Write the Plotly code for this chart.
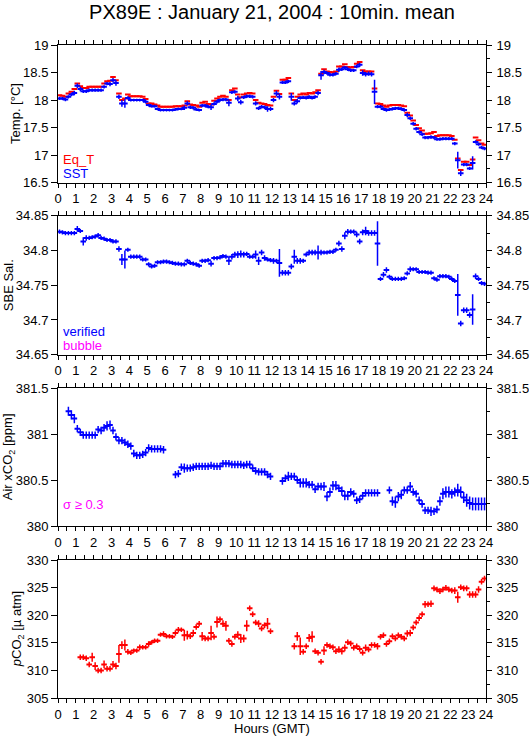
import plotly.graph_objects as go

# ---------------- data (10-minute means, 6 bins per hour) ----------------
hours = [(i + 0.5) / 6 for i in range(144)]

eq_t = [
    18.09, 18.08, 18.06, 18.12, 18.15, 18.20,
    18.30, 18.25, 18.22, 18.22, 18.24, 18.24,
    18.24, 18.24, 18.24, 18.30, 18.34, 18.35,
    18.42, 18.36, 18.12, 18.00, 18.03, 18.10,
    18.07, 18.07, 18.07, 18.07, 18.06, 18.02,
    17.94, 17.94, 17.92, 17.90, 17.88, 17.88,
    17.88, 17.88, 17.88, 17.89, 17.89, 17.89,
    17.90, 17.98, 17.92, 17.91, 17.90, 17.88,
    17.95, 17.97, 17.93, 17.92, 17.99, 18.03,
    18.06, 18.08, 18.06, 18.00, 18.18, 18.21,
    18.10, 18.05, 18.10, 18.12, 18.13, 18.12,
    18.00, 17.95, 17.94, 17.93, 17.91, 17.90,
    18.06, 18.17, 18.11, 18.37, 18.37, 18.40,
    18.12, 18.00, 18.06, 18.10, 18.12, 18.10,
    18.13, 18.12, 18.14, 18.18, 18.48, 18.56,
    18.52, 18.51, 18.50, 18.52, 18.61, 18.61,
    18.65, 18.60, 18.59, 18.60, 18.66, 18.69,
    18.54, 18.52, 18.52, 18.52, 18.21, 17.94,
    17.93, 17.90, 17.88, 17.90, 17.91, 17.91,
    17.91, 17.90, 17.89, 17.77, 17.72, 17.63,
    17.55, 17.49, 17.45, 17.39, 17.39, 17.40,
    17.42, 17.35, 17.36, 17.36, 17.36, 17.36,
    17.35, 17.28, 16.94, 16.73, 16.88, 16.88,
    16.82, 16.92, 17.32, 17.27, 17.21, 17.19,
]

sst = [
    18.03, 18.03, 18.01, 18.06, 18.10, 18.13,
    18.26, 18.20, 18.16, 18.16, 18.18, 18.18,
    18.18, 18.18, 18.18, 18.24, 18.30, 18.29,
    18.36, 18.31, 18.06, 17.94, 17.94, 18.04,
    18.00, 18.00, 18.00, 18.00, 18.00, 17.97,
    17.91, 17.89, 17.89, 17.84, 17.82, 17.82,
    17.82, 17.82, 17.82, 17.83, 17.84, 17.84,
    17.86, 17.94, 17.87, 17.86, 17.83, 17.82,
    17.90, 17.90, 17.88, 17.87, 17.93, 17.97,
    18.00, 18.01, 18.01, 17.95, 18.14, 18.15,
    18.03, 17.96, 18.05, 18.07, 18.07, 18.06,
    17.94, 17.85, 17.88, 17.87, 17.84, 17.84,
    18.00, 18.12, 18.06, 18.32, 18.32, 18.34,
    18.06, 17.94, 17.98, 18.04, 18.05, 18.04,
    18.06, 18.04, 18.06, 18.13, 18.45, 18.51,
    18.49, 18.46, 18.46, 18.48, 18.55, 18.56,
    18.59, 18.56, 18.54, 18.54, 18.61, 18.64,
    18.49, 18.47, 18.48, 18.47, 18.15, 17.88,
    17.88, 17.84, 17.82, 17.83, 17.84, 17.85,
    17.85, 17.84, 17.82, 17.73, 17.67, 17.57,
    17.48, 17.42, 17.38, 17.32, 17.32, 17.33,
    17.32, 17.29, 17.29, 17.30, 17.30, 17.30,
    17.30, 17.21, 16.91, 16.67, 16.83, 16.83,
    16.76, 16.86, 17.24, 17.20, 17.14, 17.12,
]

sst_err = [
    .03, .03, .03, .03, .03, .04,
    .04, .04, .03, .03, .03, .03,
    .03, .03, .03, .03, .03, .04,
    .04, .05, .04, .06, .08, .03,
    .025, .025, .025, .025, .025, .03,
    .025, .025, .025, .025, .025, .025,
    .025, .025, .025, .025, .025, .025,
    .04, .04, .03, .03, .025, .025,
    .03, .03, .03, .05, .03, .03,
    .03, .03, .03, .06, .03, .03,
    .05, .04, .03, .03, .03, .03,
    .04, .03, .03, .03, .05, .04,
    .04, .05, .05, .03, .03, .03,
    .07, .04, .04, .03, .03, .03,
    .03, .03, .03, .04, .08, .04,
    .03, .03, .03, .03, .04, .03,
    .03, .03, .03, .03, .03, .04,
    .05, .04, .04, .04, .22, .03,
    .03, .03, .03, .03, .03, .03,
    .03, .03, .03, .04, .03, .03,
    .03, .03, .03, .03, .03, .03,
    .03, .03, .03, .03, .03, .03,
    .03, .03, .15, .05, .03, .03,
    .03, .12, .03, .03, .03, .03,
]

sal = [
    34.827, 34.826, 34.825, 34.825, 34.825, 34.825,
    34.831, 34.828, 34.813, 34.818, 34.818, 34.819,
    34.820, 34.822, 34.818, 34.817, 34.815, 34.815,
    34.813, 34.813, 34.802, 34.787, 34.787, 34.801,
    34.791, 34.791, 34.791, 34.791, 34.787, 34.787,
    34.780, 34.777, 34.778, 34.783, 34.783, 34.784,
    34.784, 34.783, 34.782, 34.781, 34.781, 34.780,
    34.780, 34.785, 34.782, 34.781, 34.780, 34.778,
    34.785, 34.785, 34.786, 34.781, 34.789, 34.789,
    34.790, 34.792, 34.791, 34.785, 34.791, 34.794,
    34.794, 34.795, 34.794, 34.795, 34.791, 34.791,
    34.794, 34.785, 34.797, 34.789, 34.787, 34.786,
    34.785, 34.785, 34.782, 34.768, 34.768, 34.768,
    34.777, 34.791, 34.785, 34.785, 34.785, 34.794,
    34.797, 34.797, 34.797, 34.797, 34.797, 34.797,
    34.797, 34.798, 34.798, 34.801, 34.810, 34.802,
    34.821, 34.827, 34.827, 34.827, 34.823, 34.813,
    34.826, 34.828, 34.825, 34.825, 34.825, 34.810,
    34.759, 34.765, 34.772, 34.762, 34.759, 34.759,
    34.759, 34.759, 34.760, 34.767, 34.773, 34.773,
    34.773, 34.769, 34.769, 34.769, 34.768, 34.768,
    34.760, 34.758, 34.763, 34.763, 34.763, 34.762,
    34.759, 34.756, 34.736, 34.695, 34.714, 34.714,
    34.707, 34.715, 34.763, 34.759, 34.753, 34.752,
]

sal_err = [
    .003, .003, .003, .003, .003, .003,
    .004, .003, .006, .004, .003, .003,
    .003, .003, .003, .003, .003, .003,
    .003, .003, .004, .008, .013, .003,
    .003, .003, .003, .003, .003, .003,
    .003, .003, .003, .003, .003, .003,
    .003, .003, .003, .003, .003, .003,
    .003, .003, .003, .003, .003, .003,
    .003, .003, .003, .004, .003, .003,
    .003, .003, .003, .006, .004, .004,
    .005, .005, .004, .003, .003, .003,
    .006, .006, .004, .004, .003, .003,
    .004, .003, .020, .004, .004, .004,
    .004, .010, .004, .004, .003, .003,
    .004, .004, .004, .010, .004, .003,
    .003, .003, .003, .003, .004, .004,
    .005, .004, .003, .003, .004, .004,
    .004, .006, .004, .004, .004, .032,
    .003, .004, .004, .003, .003, .003,
    .003, .003, .003, .003, .004, .003,
    .003, .003, .003, .003, .003, .003,
    .003, .003, .003, .003, .003, .003,
    .003, .003, .030, .004, .004, .004,
    .004, .022, .004, .003, .003, .003,
]

air_co2 = [
    None, None, None, 381.25, 381.21, 381.17,
    381.06, 381.02, 380.99, 380.99, 380.99, 380.99,
    380.99, 381.05, 381.04, 381.07, 381.09, 381.10,
    381.04, 380.97, 380.93, 380.93, 380.91, 380.89,
    380.87, 380.79, 380.77, 380.77, 380.78, 380.80,
    380.85, 380.84, 380.84, 380.84, 380.84, 380.83,
    None, None, None, 380.56, 380.57, 380.64,
    380.63, 380.63, 380.63, 380.64, 380.65, 380.65,
    380.65, 380.65, 380.65, 380.66, 380.65, 380.65,
    380.65, 380.68, 380.68, 380.68, 380.67, 380.67,
    380.67, 380.67, 380.66, 380.67, 380.67, 380.63,
    380.60, 380.59, 380.59, 380.59, 380.56, 380.54,
    None, None, None, 380.49, 380.52, 380.54,
    380.54, 380.54, 380.50, 380.47, 380.47, 380.47,
    380.45, 380.45, 380.40, 380.43, 380.43, 380.43,
    380.32, 380.37, 380.44, 380.44, 380.41, 380.38,
    380.33, 380.33, 380.37, 380.35, 380.28, 380.29,
    380.33, 380.36, 380.36, 380.36, 380.36, 380.36,
    None, None, None, 380.39, 380.27, 380.26,
    380.32, 380.34, 380.39, 380.39, 380.43, 380.37,
    380.35, 380.28, 380.24, 380.17, 380.17, 380.16,
    380.16, 380.18, 380.27, 380.35, 380.37, 380.37,
    380.35, 380.37, 380.39, 380.37, 380.31, 380.28,
    380.25, 380.24, 380.24, 380.24, 380.24, 380.24,
]

air_err = [
    0, 0, 0, .05, .05, .05,
    .04, .04, .04, .04, .04, .04,
    .04, .04, .04, .04, .05, .05,
    .04, .04, .04, .04, .04, .04,
    .04, .04, .04, .04, .04, .04,
    .04, .04, .04, .04, .04, .04,
    0, 0, 0, .04, .04, .04,
    .05, .04, .04, .04, .04, .04,
    .04, .04, .04, .04, .04, .04,
    .04, .04, .04, .04, .04, .04,
    .04, .04, .04, .04, .04, .04,
    .04, .04, .04, .04, .04, .04,
    0, 0, 0, .04, .04, .05,
    .04, .04, .04, .05, .05, .05,
    .04, .04, .04, .04, .04, .05,
    .05, .05, .05, .05, .04, .05,
    .05, .05, .04, .04, .04, .04,
    .04, .04, .04, .04, .04, .04,
    0, 0, 0, .04, .05, .06,
    .05, .05, .04, .04, .05, .04,
    .04, .04, .04, .04, .04, .05,
    .04, .04, .05, .06, .06, .06,
    .05, .05, .07, .06, .06, .07,
    .07, .07, .07, .07, .07, .07,
]

pco2 = [
    None, None, None, None, None, None,
    None, 312.4, 312.4, 312.2, 311.1, 312.4,
    310.8, 310.0, 310.0, 311.1, 310.3, 310.3,
    311.1, 310.8, 313.0, 314.6, 314.6, 313.4,
    313.2, 313.6, 313.6, 314.2, 314.2, 314.2,
    314.8, 315.1, 315.4, 315.4, 316.5, 316.6,
    316.2, 316.2, 316.1, 316.8, 317.4, 317.4,
    316.4, 316.4, 316.2, 316.8, 317.9, 318.5,
    316.2, 315.8, 315.8, 316.8, 316.1, 318.8,
    319.3, 318.5, 318.1, 315.4, 314.8, 316.1,
    316.5, 315.8, 315.8, 318.1, 321.3, 320.2,
    318.7, 318.5, 317.6, 318.2, 318.5, 317.1,
    None, None, None, None, None, None,
    None, 314.4, 316.2, 314.4, 313.4, 314.4,
    315.9, 316.1, 313.5, 313.2, 311.6, 313.6,
    314.6, 314.4, 314.2, 313.5, 313.8, 313.5,
    314.1, 315.1, 314.9, 314.1, 314.4, 313.9,
    313.2, 314.1, 313.8, 314.6, 314.6, 314.4,
    316.1, 316.4, 314.8, 315.3, 316.2, 315.8,
    316.4, 316.1, 315.8, 316.7, 316.8, 317.8,
    318.7, 319.5, 320.2, 322.0, 322.0, 322.1,
    324.9, 324.7, 324.4, 324.7, 325.0, 324.7,
    324.5, 324.5, 323.3, 325.1, 324.9, 324.9,
    323.8, 323.8, 323.8, 324.7, 326.1, 326.7,
]

pco2_err = [
    0, 0, 0, 0, 0, 0,
    0, .5, .5, .5, .5, .8,
    .7, .5, .5, .7, .5, .5,
    .6, .6, 1.6, .7, 1.0, .5,
    .4, .4, .4, .5, .4, .4,
    .5, .4, .4, .4, .4, .5,
    .4, .4, .4, .5, .5, .4,
    1.0, .8, .5, .6, .5, .5,
    .8, .5, .5, 1.3, .5, 1.0,
    .5, .6, .9, .5, .5, .5,
    .6, .8, .7, 1.0, .5, .5,
    .5, .6, .5, .5, 1.0, .5,
    0, 0, 0, 0, 0, 0,
    0, .6, .8, 1.6, .5, .5,
    .7, 1.0, .5, .5, .5, .8,
    .5, .5, .5, .5, .6, .6,
    .6, .5, .5, .5, .5, .5,
    .5, .6, .5, .5, .5, .6,
    .5, .5, .5, .5, .5, .5,
    .5, .5, .5, .6, .6, .5,
    .5, .5, .5, .6, .5, .6,
    .5, .5, .5, .5, .5, .5,
    .5, .6, 1.0, .5, .5, .5,
    .6, .6, .6, .6, .5, .5,
]

hour_ticks = list(range(0, 25))
temp_range = [16.5, 19.0]
sal_range = [34.65, 34.85]
air_range = [380.0, 381.5]
pco2_range = [305.0, 330.0]

# ---------------- styling ----------------
BLUE = "#0000FF"
RED = "#FF0000"
MAGENTA = "#FF00FF"
FONT = "Liberation Sans, Arial, Helvetica, sans-serif"

fig = go.Figure()


def add_series(x, y, err, color, xa, ya):
    kw = {}
    if err is not None:
        kw["error_y"] = dict(type="data", array=err, visible=True, color=color,
                             thickness=1.5, width=0)
    fig.add_trace(go.Scatter(
        x=x, y=y, mode="markers", xaxis=xa, yaxis=ya,
        marker=dict(symbol="line-ew", size=4, color=color,
                    line=dict(width=2, color=color)),
        showlegend=False, hoverinfo="skip", **kw))


add_series(hours, eq_t, None, RED, "x", "y")
add_series(hours, sst, sst_err, BLUE, "x", "y")
add_series(hours, sal, sal_err, BLUE, "x2", "y2")
add_series(hours, air_co2, air_err, BLUE, "x3", "y3")
add_series(hours, pco2, pco2_err, RED, "x4", "y4")

# invisible anchors for the right-hand mirror axes
for i, rng in zip(range(5, 9), [temp_range, sal_range, air_range, pco2_range]):
    fig.add_trace(go.Scatter(x=[0, 24], y=[rng[0], rng[0]], mode="lines",
                             xaxis="x%d" % (i - 4) if i > 5 else "x",
                             yaxis="y%d" % i, line=dict(width=0),
                             opacity=0, showlegend=False, hoverinfo="skip"))

domains = [[0.7891, 1.0], [0.5257, 0.7386], [0.2634, 0.4743], [0.0, 0.2109]]
ranges = [temp_range, sal_range, air_range, pco2_range]
dticks = [0.5, 0.05, 0.5, 5]

tickfont = dict(family=FONT, size=13, color="black")

layout = dict(
    template="none",
    width=529, height=739,
    margin=dict(l=58, r=43, t=45, b=41, autoexpand=False),
    paper_bgcolor="white", plot_bgcolor="white",
    font=dict(family=FONT, size=13, color="black"),
    title=dict(text="PX89E : January 21, 2004 : 10min. mean",
               font=dict(family=FONT, size=20, color="black"),
               x=272 / 529, xanchor="center", xref="container",
               y=1 - 12 / 739, yanchor="middle", yref="container"),
)

for k in range(4):
    xn = "xaxis" if k == 0 else "xaxis%d" % (k + 1)
    yn = "yaxis" if k == 0 else "yaxis%d" % (k + 1)
    yr = "yaxis%d" % (k + 5)
    xid = "x" if k == 0 else "x%d" % (k + 1)
    yid = "y" if k == 0 else "y%d" % (k + 1)
    layout[xn] = dict(
        domain=[0, 1], anchor=yid, range=[0, 24], automargin=False,
        tickmode="array", tickvals=hour_ticks,
        ticks="outside", ticklen=4, tickwidth=1, tickcolor="black",
        showline=True, linecolor="black", linewidth=1, mirror="allticks",
        showgrid=False, zeroline=False, tickfont=tickfont,
        minor=dict(dtick=0.5, tick0=0, ticks="outside", ticklen=4,
                   tickcolor="black", showgrid=False),
    )
    layout[yn] = dict(
        domain=domains[k], anchor=xid, range=ranges[k], automargin=False,
        tick0=ranges[k][0], dtick=dticks[k],
        ticks="outside", ticklen=6, tickwidth=1, tickcolor="black",
        showline=True, linecolor="black", linewidth=1, mirror=True,
        showgrid=False, zeroline=False, tickfont=tickfont,
    )
    layout[yr] = dict(
        overlaying=yid, side="right", anchor=xid, range=ranges[k],
        automargin=False,
        tick0=ranges[k][0], dtick=dticks[k],
        ticks="outside", ticklen=5, tickwidth=1, tickcolor="black",
        showline=False, showgrid=False, zeroline=False, tickfont=tickfont,
        ticklabelstandoff=2,
        minor=dict(dtick=dticks[k] / 2, tick0=ranges[k][0], ticks="outside",
                   ticklen=3, tickcolor="black", showgrid=False),
    )

fig.update_layout(**layout)


def px_x(px):
    return (px - 58) / 428


def px_y(py):
    return (698 - py) / 653


ann = []
ytitles = [
    ("Temp. [°C]", 16, 113.9),
    ("SBE Sal.", 8, 285.2),
    ("Air xCO<sub>2</sub> [ppm]", 8, 457.2),
    ("<i>p</i>CO<sub>2</sub> [µ atm]", 17, 629.2),
]
for text, px, py in ytitles:
    ann.append(dict(text=text, x=px_x(px), y=px_y(py), xref="paper", yref="paper",
                    textangle=-90, showarrow=False, xanchor="center", yanchor="middle",
                    font=dict(family=FONT, size=13, color="black")))

labels = [
    ("Eq_T", RED, 159), ("SST", BLUE, 173),
    ("verified", BLUE, 331.7), ("bubble", MAGENTA, 345),
    ("σ ≥ 0.3", MAGENTA, 504.3),
]
for text, col, py in labels:
    ann.append(dict(text=text, x=px_x(61), y=px_y(py), xref="paper", yref="paper",
                    showarrow=False, xanchor="left", yanchor="middle",
                    font=dict(family=FONT, size=13, color=col)))

ann.append(dict(text="Hours (GMT)", x=0.5, y=px_y(729), xref="paper", yref="paper",
                showarrow=False, xanchor="center", yanchor="middle",
                font=dict(family=FONT, size=13, color="black")))

fig.update_layout(annotations=ann)

fig.write_html(
    "out.html",
    config={"displayModeBar": False, "staticPlot": True},
    post_script="document.body.style.margin='0px';"
                "document.body.style.overflow='hidden';",
)
